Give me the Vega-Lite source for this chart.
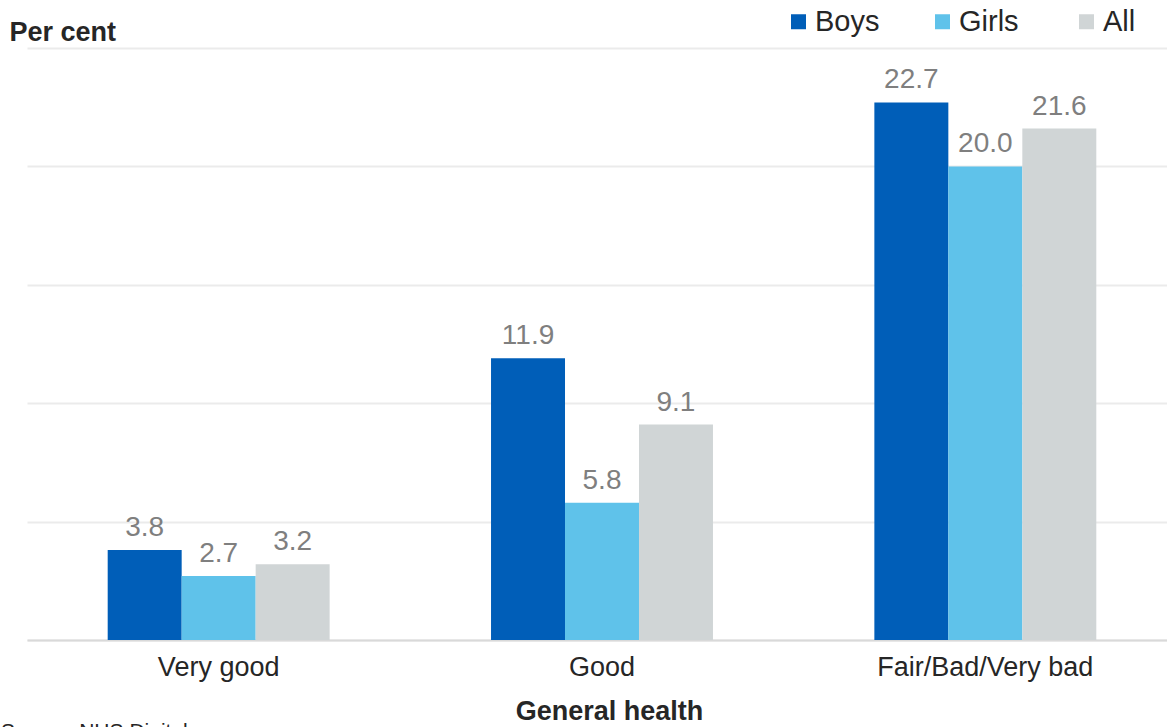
{
  "$schema": "https://vega.github.io/schema/vega-lite/v6.json",
  "width": 1150,
  "height": 592,
  "autosize": {"type": "none"},
  "padding": {"left": 27, "top": 48, "right": 0, "bottom": 87},
  "background": "white",
  "config": {
    "view": {"stroke": null},
    "font": "Liberation Sans",
    "text": {"font": "Liberation Sans"}
  },
  "title": {
    "text": "Source: NHS Digital",
    "orient": "bottom",
    "anchor": "start",
    "frame": "bounds",
    "fontSize": 21,
    "fontWeight": "normal",
    "color": "#262626",
    "font": "Liberation Sans",
    "dx": -8,
    "offset": -3
  },
  "data": {
    "values": [
      {"health": "Very good", "group": "Boys", "value": 3.8},
      {"health": "Very good", "group": "Girls", "value": 2.7},
      {"health": "Very good", "group": "All", "value": 3.2},
      {"health": "Good", "group": "Boys", "value": 11.9},
      {"health": "Good", "group": "Girls", "value": 5.8},
      {"health": "Good", "group": "All", "value": 9.1},
      {"health": "Fair/Bad/Very bad", "group": "Boys", "value": 22.7},
      {"health": "Fair/Bad/Very bad", "group": "Girls", "value": 20.0},
      {"health": "Fair/Bad/Very bad", "group": "All", "value": 21.6}
    ]
  },
  "encoding": {
    "x": {
      "field": "health",
      "type": "nominal",
      "sort": ["Very good", "Good", "Fair/Bad/Very bad"],
      "scale": {"paddingInner": 0.421, "paddingOuter": 0.2105},
      "axis": {
        "title": "General health",
        "titleFont": "Liberation Sans",
        "titleFontSize": 27,
        "titleFontWeight": "bold",
        "titleColor": "#262626",
        "titlePadding": 18,
        "titleX": 582,
        "labelAngle": 0,
        "labelLimit": 0,
        "labelFont": "Liberation Sans",
        "labelFontSize": 27,
        "labelColor": "#262626",
        "labelPadding": 14,
        "ticks": false,
        "domain": true,
        "domainColor": "#d9d9d9",
        "domainWidth": 2
      }
    },
    "xOffset": {
      "field": "group",
      "type": "nominal",
      "sort": ["Boys", "Girls", "All"],
      "scale": {"paddingInner": 0, "paddingOuter": 0}
    },
    "y": {
      "field": "value",
      "type": "quantitative",
      "scale": {"domain": [0, 25], "nice": false},
      "axis": {
        "title": "Per cent",
        "titleFont": "Liberation Sans",
        "titleFontSize": 27,
        "titleFontWeight": "bold",
        "titleColor": "#262626",
        "titleAngle": 0,
        "titleAlign": "left",
        "titleBaseline": "alphabetic",
        "titleX": -18,
        "titleY": -8,
        "values": [0, 5, 10, 15, 20, 25],
        "labels": false,
        "ticks": false,
        "domain": false,
        "grid": true,
        "gridColor": "#ebebeb",
        "gridWidth": 2
      }
    }
  },
  "layer": [
    {
      "mark": {"type": "bar"},
      "encoding": {
        "color": {
          "field": "group",
          "type": "nominal",
          "sort": ["Boys", "Girls", "All"],
          "scale": {"domain": ["Boys", "Girls", "All"], "range": ["#005eb8", "#5fc2ea", "#d0d5d6"]},
          "legend": {
            "title": null,
            "orient": "none",
            "legendX": 757,
            "legendY": -41,
            "direction": "horizontal",
            "symbolType": "square",
            "symbolSize": 225,
            "symbolStrokeWidth": 0,
            "labelFont": "Liberation Sans",
            "labelFontSize": 29,
            "labelColor": "#262626",
            "labelOffset": 2,
            "gridAlign": "all",
            "columnPadding": 48
          }
        }
      }
    },
    {
      "mark": {"type": "text", "baseline": "alphabetic", "dy": -14, "fontSize": 28, "color": "#7f7f7f", "font": "Liberation Sans"},
      "encoding": {
        "text": {"field": "value", "type": "quantitative", "format": ".1f"}
      }
    }
  ]
}
